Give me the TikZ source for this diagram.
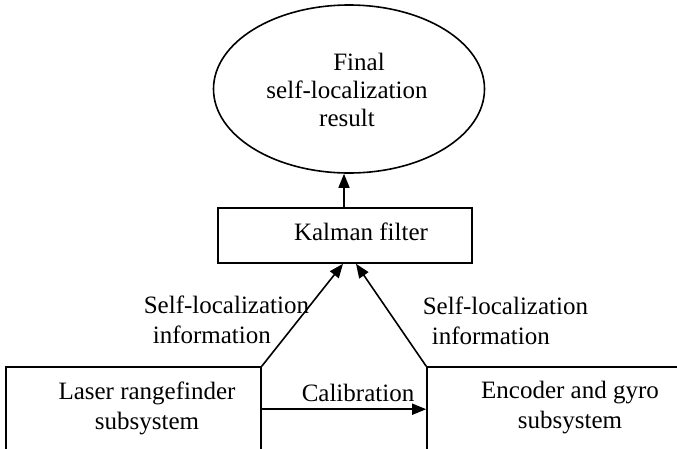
\documentclass[tikz,border=0pt]{standalone}
\usepackage{fontspec}
\setmainfont{Liberation Serif}
\usetikzlibrary{arrows.meta,shapes.geometric,calc}
\begin{document}
\begin{tikzpicture}[x=1pt,y=-1pt,
  line width=1.6pt,
  lbl/.style={font=\fontsize{25}{30}\selectfont,align=center,inner sep=0pt},
  lblleft/.style={lbl,align=left},
  box/.style={draw,rectangle,inner sep=0pt},
  arr/.style={-{Triangle[length=14pt,width=11pt]}}]
\useasboundingbox (0,0) rectangle (677,448);
\clip (0,0) rectangle (677,448);

% result ellipse
\node[draw,ellipse,minimum width=271pt,minimum height=168pt,inner sep=0pt] (res) at (349,89) {};
\node[lbl,font=\fontsize{25}{28}\selectfont] (restxt) at (347,90) {\hspace*{24pt}Final\\self-localization\\result};

% Kalman filter
\node[box,minimum width=254pt,minimum height=55pt] (kal) at (345,235.5) {};
\node[lbl] (kaltxt) at (361,232) {Kalman filter};

% subsystems (continue past the lower edge)
\node[box,minimum width=255pt,minimum height=100pt] (laser) at (133.5,417) {};
\node[lbl] (lasertxt) at (147,408) {Laser rangefinder\\subsystem};
\node[box,minimum width=270pt,minimum height=100pt] (enc) at (562,417) {};
\node[lbl] (enctxt) at (570,408) {Encoder and gyro\\subsystem};

% connectors
\coordinate (kin1) at ($(kal.south)+(-2,0)$);
\coordinate (kin2) at ($(kal.south)+(11,0)$);
\coordinate (kout) at ($(kal.north)+(-1,0)$);
\draw[arr] (laser.north east) -- (kin1);
\draw[arr] (enc.north west) -- (kin2);
\draw[arr] (kout) -- (kout |- res.south);
\coordinate (cal1) at ($(laser.north east)+(0,43)$);
\draw[arr] (cal1) -- (cal1 -| enc.west);

% connector labels
\node[lbl] (cal) at (358,393) {Calibration};
\node[lblleft,anchor=west] (info1) at (143,320) {Self-localization\\\hspace*{9pt}information};
\node[lblleft,anchor=west] (info2) at (422,321) {Self-localization\\\hspace*{9pt}information};
\end{tikzpicture}
\end{document}
